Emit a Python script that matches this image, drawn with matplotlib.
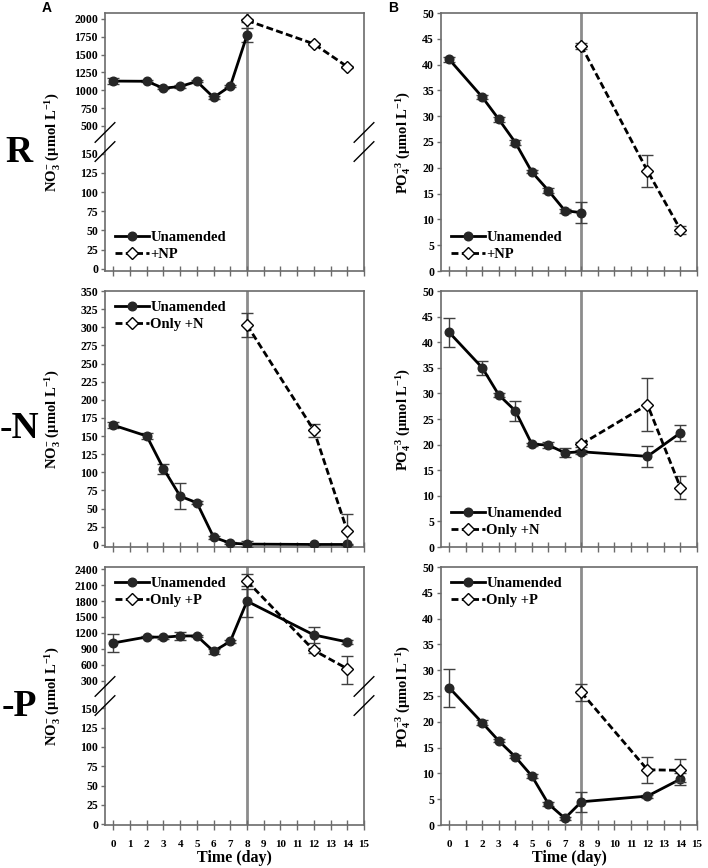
import numpy as np
import matplotlib
matplotlib.use("Agg")
import matplotlib.pyplot as plt
from matplotlib.lines import Line2D

plt.rcParams['font.family'] = ['Liberation Serif', 'DejaVu Serif']
plt.rcParams['font.weight'] = 'bold'
plt.rcParams['mathtext.fontset'] = 'custom'
plt.rcParams['mathtext.rm'] = 'Liberation Serif:bold'
plt.rcParams['mathtext.it'] = 'Liberation Serif:bold'
plt.rcParams['mathtext.bf'] = 'Liberation Serif:bold'

# days sampled
days_un = [0, 2, 3, 4, 5, 6, 7, 8, 12, 14]
days_add = [8, 12, 14]

# R: nitrate / phosphate, unamended stops at day 8
r_no3_un = [1128, 1125, 1028, 1052, 1123, 898, 1058, 1772]
r_no3_un_err = [40, 15, 15, 15, 15, 15, 20, 95]
r_no3_add = [1978, 1650, 1330]
r_no3_add_err = [20, 15, 15]
r_po4_un = [41.0, 33.7, 29.4, 24.9, 19.2, 15.6, 11.7, 11.3]
r_po4_un_err = [0.4, 0.4, 0.5, 0.5, 0.3, 0.4, 0.4, 2.0]
r_po4_add = [43.6, 19.4, 8.0]
r_po4_add_err = [0.5, 3.1, 0.8]

# -N
n_no3_un = [165, 150, 105, 67, 58, 10.5, 2.3, 1.0, 0.5, 0.5]
n_no3_un_err = [4, 4, 7, 18, 2, 2, 1, 4, 1, 1]
n_no3_add = [303, 158, 19]
n_no3_add_err = [16, 9, 23]
n_po4_un = [41.9, 35.0, 29.7, 26.6, 20.1, 19.9, 18.4, 18.6, 17.7, 22.3]
n_po4_un_err = [2.8, 1.4, 0.4, 2.0, 0.3, 0.6, 0.9, 0.4, 2.1, 1.5]
n_po4_add = [20.1, 27.8, 11.6]
n_po4_add_err = [0.5, 5.2, 2.2]

# -P
p_no3_un = [1011, 1124, 1118, 1143, 1143, 853, 1042, 1797, 1162, 1030]
p_no3_un_err = [165, 25, 25, 70, 25, 50, 30, 290, 145, 40]
p_no3_add = [2174, 872, 526]
p_no3_add_err = [140, 50, 245]
p_po4_un = [26.6, 19.8, 16.3, 13.2, 9.5, 4.1, 1.3, 4.5, 5.6, 8.9]
p_po4_un_err = [3.65, 0.5, 0.3, 0.3, 0.4, 0.4, 0.3, 1.9, 0.3, 1.2]
p_po4_add = [25.7, 10.7, 10.6]
p_po4_add_err = [1.65, 2.5, 2.2]

xticks = list(range(16))
r_no3_ticks = [0, 25, 50, 75, 100, 125, 150, 500, 750, 1000, 1250, 1500, 1750, 2000]
p_no3_ticks = [0, 25, 50, 75, 100, 125, 150, 300, 600, 900, 1200, 1500, 1800, 2100, 2400]
po4_ticks = list(range(0, 51, 5))
n_no3_ticks = list(range(0, 351, 25))

add_labels = ['+NP', 'Only +N', 'Only +P']
row_labels = ['R', '-N', '-P']

W, H = 708, 868
fig = plt.figure(figsize=(W / 100, H / 100), dpi=100)

SPINE = '#6b6b6b'


def make_break(lo_top, hi_bot, gap, k):
    # piecewise linear mapping for the broken y axis
    def fwd(v):
        v = np.asarray(v, float)
        mid = lo_top + (v - lo_top) * gap / (hi_bot - lo_top)
        hi = lo_top + gap + (v - hi_bot) * k
        return np.where(v <= lo_top, v, np.where(v >= hi_bot, hi, mid))

    def inv(t):
        t = np.asarray(t, float)
        mid = lo_top + (t - lo_top) * (hi_bot - lo_top) / gap
        hi = hi_bot + (t - lo_top - gap) / k
        return np.where(t <= lo_top, t, np.where(t >= lo_top + gap, hi, mid))
    return fwd, inv


def box(px):
    l, t, r, b = px
    return [l / W, (H - b) / H, (r - l) / W, (b - t) / H]


def style(ax, bottom_labels):
    for s in ax.spines.values():
        s.set_color(SPINE)
        s.set_linewidth(1.2)
    ax.set_xlim(-0.5, 15)
    ax.set_xticks(xticks)
    ax.tick_params(axis='x', direction='inout', length=7, width=1, color=SPINE,
                   labelsize=8, pad=7, labelbottom=bottom_labels)
    ax.tick_params(axis='y', direction='out', length=3, width=1, color=SPINE,
                   labelsize=8.5, pad=2)
    ax.axvline(8, color='#8c8c8c', lw=2, zorder=1)
    if bottom_labels:
        ax.set_xlabel('Time (day)', fontsize=11.5, fontweight='bold', labelpad=1)


def draw(ax, x_un, y_un, e_un, y_add, e_add, lab, loc):
    ax.errorbar(x_un, y_un, yerr=e_un, color='black', lw=2, marker='o', ms=6.2,
                mfc='#262626', mec='#262626', ecolor='#404040', elinewidth=1,
                capsize=4, capthick=1, zorder=3)
    ax.errorbar(days_add, y_add, yerr=e_add, color='black', lw=2, ls=(0, (2.5, 1.2)),
                marker='D', ms=5.8, mfc='white', mec='black', mew=1, ecolor='#404040',
                elinewidth=1, capsize=4, capthick=1, zorder=4)
    handles = [Line2D([], [], color='black', lw=2, marker='o', ms=6.2,
                      mfc='#262626', mec='#262626'),
               Line2D([], [], color='black', lw=2, ls=(0, (2.5, 1.2)), marker='D', ms=5.8,
                      mfc='white', mec='black')]
    ax.legend(handles, ['Unamended', lab], loc=loc, frameon=False,
              prop={'weight': 'bold', 'size': 10.5}, handlelength=2.3,
              handletextpad=0.1, labelspacing=0.25, borderaxespad=0.3)


def break_marks(ax, yfrac):
    for xa in (0, 1):
        for dy in (-0.037, 0.037):
            ax.plot([xa - 0.038, xa + 0.038], [yfrac + dy - 0.038, yfrac + dy + 0.038],
                    transform=ax.transAxes, color='black', lw=1, clip_on=False, zorder=5)


rows = [(13, 271), (291, 547), (567, 825)]
left_px = (105, 364)
right_px = (441, 697)

no3_label = 'NO$_3^{-}$ (μmol L$^{-1}$)'
po4_label = 'PO$_4^{-3}$ (μmol L$^{-1}$)'

axes = []
for i, (t, b) in enumerate(rows):
    axl = fig.add_axes(box((left_px[0], t, left_px[1], b)))
    axr = fig.add_axes(box((right_px[0], t, right_px[1], b)))
    style(axl, i == 2)
    style(axr, i == 2)
    axes.append((axl, axr))

# R row
axl, axr = axes[0]
axl.set_yscale('function', functions=make_break(150, 500, 36.6, 0.0931))
draw(axl, days_un[:8], r_no3_un, r_no3_un_err, r_no3_add, r_no3_add_err, add_labels[0], 'lower left')
axl.set_ylim(-3, 2083)
axl.set_yticks(r_no3_ticks)
axl.set_yticklabels([str(v) for v in r_no3_ticks])
axl.minorticks_off()
break_marks(axl, 0.5)
draw(axr, days_un[:8], r_po4_un, r_po4_un_err, r_po4_add, r_po4_add_err, add_labels[0], 'lower left')
axr.set_ylim(0, 50)
axr.set_yticks(po4_ticks)

# -N row
axl, axr = axes[1]
draw(axl, days_un, n_no3_un, n_no3_un_err, n_no3_add, n_no3_add_err, add_labels[1], 'upper left')
axl.set_ylim(-3, 350)
axl.set_yticks(n_no3_ticks)
draw(axr, days_un, n_po4_un, n_po4_un_err, n_po4_add, n_po4_add_err, add_labels[1], 'lower left')
axr.set_ylim(0, 50)
axr.set_yticks(po4_ticks)

# -P row
axl, axr = axes[2]
axl.set_yscale('function', functions=make_break(150, 300, 35.7, 0.0688))
draw(axl, days_un, p_no3_un, p_no3_un_err, p_no3_add, p_no3_add_err, add_labels[2], 'upper left')
axl.set_ylim(-1, 2440)
axl.set_yticks(p_no3_ticks)
axl.set_yticklabels([str(v) for v in p_no3_ticks])
axl.minorticks_off()
break_marks(axl, 0.5)
draw(axr, days_un, p_po4_un, p_po4_un_err, p_po4_add, p_po4_add_err, add_labels[2], 'upper left')
axr.set_ylim(0, 50)
axr.set_yticks(po4_ticks)

for i, (axl, axr) in enumerate(axes):
    axl.set_ylabel(no3_label, fontsize=10.5, fontweight='bold')
    axl.yaxis.set_label_coords(-0.165, 0.5)
    axr.set_ylabel(po4_label, fontsize=10.5, fontweight='bold')
    axr.yaxis.set_label_coords(-0.108, 0.5)
    t, b = rows[i]
    fig.text(19 / W, 1 - ((t + b) / 2 + 10) / H, row_labels[i], fontsize=27,
             fontweight='bold', ha='center', va='center')

fig.text(47 / W, 1 - 8 / H, 'A', family='Liberation Sans', fontsize=10,
         fontweight='bold', ha='center', va='center')
fig.text(393 / W, 1 - 8 / H, 'B', family='Liberation Sans', fontsize=10,
         fontweight='bold', ha='center', va='center')

fig.savefig('out.png', dpi=100)
